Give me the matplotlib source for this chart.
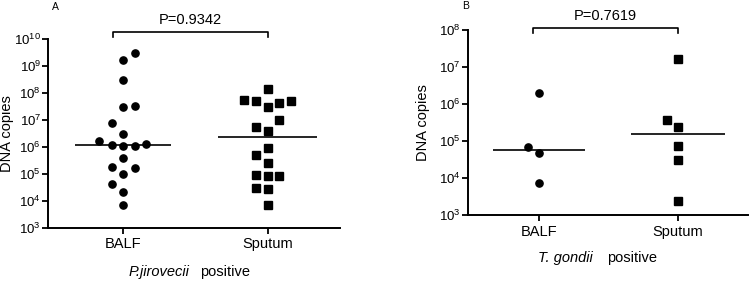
import numpy as np
import matplotlib
matplotlib.use("Agg")
import matplotlib.pyplot as plt
from matplotlib.ticker import FixedLocator, LogFormatterSciNotation, NullLocator

plt.rcParams['font.family'] = ['Liberation Sans', 'DejaVu Sans']
plt.rcParams['mathtext.fontset'] = 'custom'
plt.rcParams['mathtext.rm'] = 'Liberation Sans'
plt.rcParams['mathtext.it'] = 'Liberation Sans:italic'

categories = ["BALF", "Sputum"]

# Panel A (P. jirovecii) : log10 DNA copies and horizontal jitter offsets
a_balf_log = [9.46, 9.21, 8.47, 7.48, 7.51, 6.87, 6.47, 6.22, 6.05, 6.04, 6.04, 6.10,
              5.56, 5.26, 5.22, 4.99, 4.62, 4.31, 3.84]
a_balf_off = [0.08, 0, 0, 0, 0.08, -0.08, 0, -0.165, -0.08, 0, 0.08, 0.16,
              0, -0.08, 0.08, 0, -0.08, 0, 0]
a_sput_log = [8.13, 7.73, 7.70, 7.48, 7.61, 7.70, 6.99, 6.73, 6.57, 5.93, 5.68, 5.39,
              4.96, 4.91, 4.91, 4.47, 4.42, 3.85]
a_sput_off = [0, -0.16, -0.08, 0, 0.08, 0.16, 0.08, -0.08, 0, 0, -0.08, 0,
              -0.08, 0, 0.08, -0.08, 0, 0]

# Panel B (T. gondii)
b_balf_log = [6.29, 4.83, 4.69, 3.88]
b_balf_off = [0, -0.08, 0, 0]
b_sput_log = [7.21, 5.56, 5.39, 4.87, 4.49, 3.38]
b_sput_off = [0, -0.08, 0, 0, 0, 0]

# y-axis decade ranges (exponents)
a_decades = [3, 4, 5, 6, 7, 8, 9, 10]
b_decades = [3, 4, 5, 6, 7, 8]

p_values = ["P=0.9342", "P=0.7619"]
panel_labels = ["A", "B"]
xlabels = [("P.jirovecii", "positive"), ("T. gondii", "positive")]

FS = 10.5

fig = plt.figure(figsize=(7.5, 2.82), dpi=100)
axA = fig.add_axes([0.064, 0.193, 0.389, 0.670])
axB = fig.add_axes([0.6236, 0.2365, 0.3734, 0.6575])


def draw(ax, balf_log, balf_off, sput_log, sput_off, decades, xlim, ptxt, xl,
         bracket_y, bracket_drop, bl, ylab_x, xlab_pos):
    balf = 10 ** np.array(balf_log)
    sput = 10 ** np.array(sput_log)
    ax.plot(1 + np.array(balf_off), balf, 'o', color='black', ms=5.2, mec='black',
            clip_on=False, zorder=3)
    ax.plot(2 + np.array(sput_off), sput, 's', color='black', ms=5.2, mec='black',
            clip_on=False, zorder=3)
    ax.hlines(np.median(balf), 1 - 0.33, 1 + 0.33, color='black', lw=1.2, zorder=2)
    ax.hlines(np.median(sput), 2 - 0.34, 2 + 0.34, color='black', lw=1.2, zorder=2)
    ax.set_yscale('log')
    ticks = 10.0 ** np.array(decades)
    ax.set_ylim(ticks[0], ticks[-1])
    ax.set_xlim(*xlim)
    ax.yaxis.set_major_locator(FixedLocator(ticks))
    ax.yaxis.set_minor_locator(NullLocator())
    ax.yaxis.set_major_formatter(LogFormatterSciNotation())
    ax.set_xticks([1, 2])
    ax.set_xticklabels(categories, fontsize=FS)
    ax.tick_params(axis='y', labelsize=9.5, length=4, width=1.3, pad=1)
    ax.tick_params(axis='x', length=4, width=1.3, pad=3)
    for s in ['top', 'right']:
        ax.spines[s].set_visible(False)
    for s in ['left', 'bottom']:
        ax.spines[s].set_linewidth(1.4)
    ax.set_ylabel("DNA copies", fontsize=FS)
    ax.yaxis.set_label_coords(ylab_x, 0.5)
    # bracket
    yt = 10 ** bracket_y
    yd = 10 ** bracket_drop
    ax.plot([bl, bl, 2, 2], [yd, yt, yt, yd], color='black', lw=1.2, clip_on=False)
    ax.annotate(ptxt, xy=((bl + 2) / 2, yt), xytext=(0, 3.5), textcoords='offset points',
                ha='center', va='bottom', fontsize=FS, annotation_clip=False)
    # x label: italic organism name + normal "positive"
    x_it_end, x_norm_start, y_top = xlab_pos
    ax.text(x_it_end, y_top, xl[0], transform=ax.transAxes, ha='right', va='top',
            fontsize=FS, fontstyle='italic')
    ax.text(x_norm_start, y_top, xl[1], transform=ax.transAxes, ha='left', va='top',
            fontsize=FS)


draw(axA, a_balf_log, a_balf_off, a_sput_log, a_sput_off, a_decades, (0.48, 2.5),
     p_values[0], xlabels[0], 10.26, 10.07, 0.93, -0.115, (0.486, 0.521, -0.197))
draw(axB, b_balf_log, b_balf_off, b_sput_log, b_sput_off, b_decades, (0.49, 2.5),
     p_values[1], xlabels[1], 8.05, 7.92, 0.96, -0.134, (0.448, 0.496, -0.195))

fig.text(52 / 750, 1 - 7 / 282, panel_labels[0], fontsize=7.5, ha='left', va='center')
fig.text(462 / 750, 1 - 6 / 282, panel_labels[1], fontsize=7.5, ha='left', va='center')

fig.savefig("out.png", dpi=100)
